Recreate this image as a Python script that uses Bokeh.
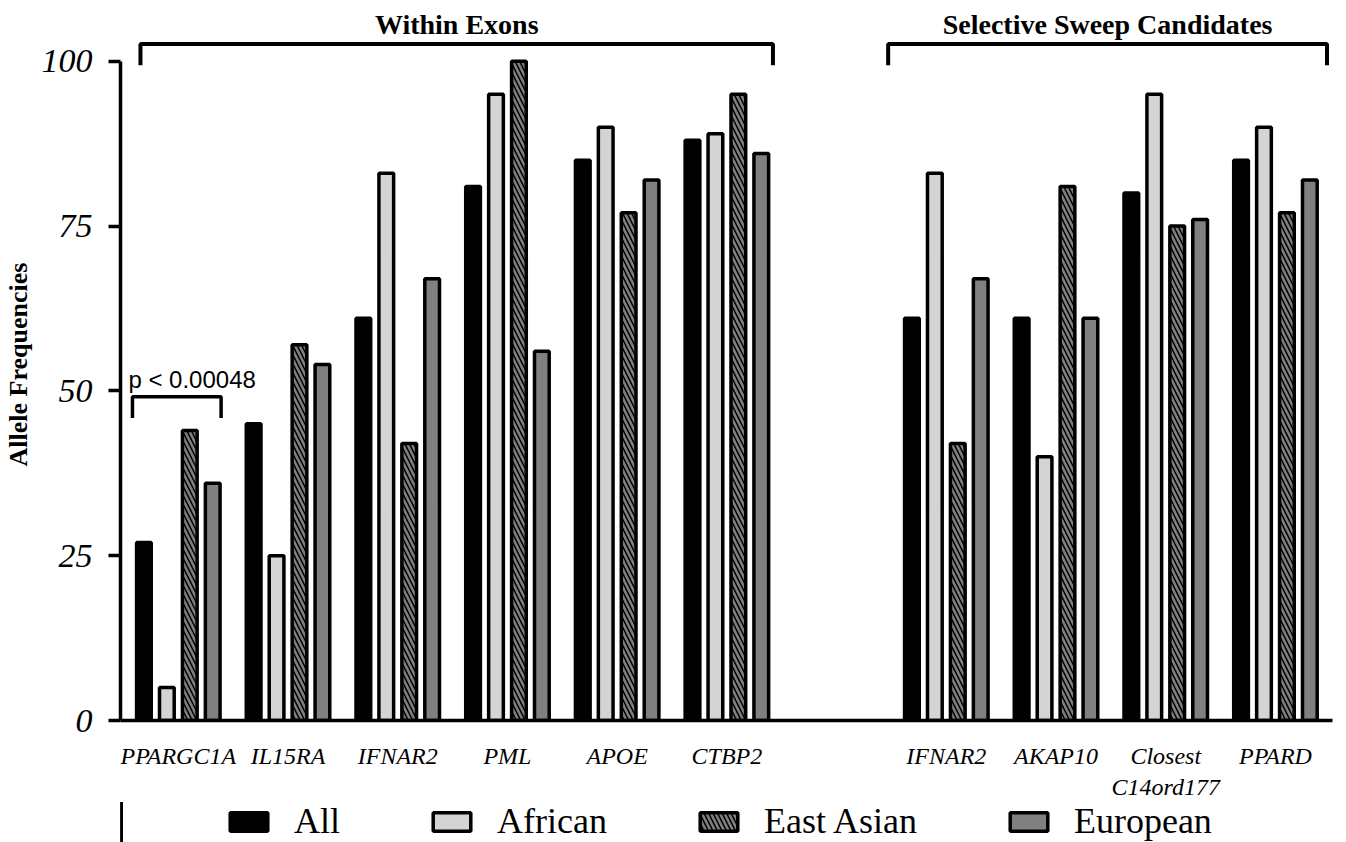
from bokeh.plotting import figure
from bokeh.layouts import column
from bokeh.models import Range1d, FixedTicker, Legend, LegendItem, ColumnDataSource
from bokeh.core.properties import value
from bokeh.embed import file_html
from bokeh.resources import INLINE

# ---------------- data ----------------
within_genes = ["PPARGC1A", "IL15RA", "IFNAR2", "PML", "APOE", "CTBP2"]
sweep_genes = ["IFNAR2", "AKAP10", "Closest\nC14ord177", "PPARD"]
series_names = ["All", "African", "East Asian", "European"]
all_vals = [27, 45, 61, 81, 85, 88, 61, 61, 80, 85]
african_vals = [5, 25, 83, 95, 90, 89, 83, 40, 95, 90]
east_asian_vals = [44, 57, 42, 100, 77, 95, 42, 81, 75, 77]
european_vals = [36, 54, 67, 56, 82, 86, 67, 61, 76, 82]
y_ticks = [0, 25, 50, 75, 100]
group_titles = ["Within Exons", "Selective Sweep Candidates"]
p_label = "p < 0.00048"
y_label = "Allele Frequencies"

# ---------------- layout helpers ----------------
positions = list(range(len(within_genes))) + [len(within_genes) + 1 + i for i in range(len(sweep_genes))]
labels = within_genes + sweep_genes

SERIF = "Liberation Serif"
SANS = "Liberation Sans"

p = figure(width=1336, height=802, output_backend="svg", toolbar_location=None,
           x_range=Range1d(-0.527, 10.52), y_range=Range1d(0, 108),
           min_border_top=8, min_border_right=4, min_border_bottom=81, min_border_left=117)
p.grid.visible = False
p.outline_line_color = None
p.background_fill_color = "white"
p.border_fill_color = "white"

pitch = 0.209
bar_w = 0.134
styles = [
    dict(fill_color="black", line_color="black"),
    dict(fill_color="#d4d4d4", line_color="black"),
    dict(fill_color="#808080", line_color="black", hatch_pattern="\\", hatch_color="black",
         hatch_scale=9, hatch_weight=1.5),
    dict(fill_color="#808080", line_color="black"),
]
all_series = [all_vals, african_vals, east_asian_vals, european_vals]
sources = []
for k, (name, vals, st) in enumerate(zip(series_names, all_series, styles)):
    off = (k - 1.5) * pitch
    src = ColumnDataSource(dict(x=[q + off for q in positions], top=vals))
    sources.append(src)
    p.vbar(x="x", top="top", width=bar_w, bottom=0, source=src, line_width=3.5, **st)

# ---------------- axes ----------------
yax = p.yaxis[0]
yax.bounds = (0, 100)
yax.ticker = FixedTicker(ticks=y_ticks)
yax.minor_tick_line_color = None
yax.axis_line_width = 3.5
yax.major_tick_line_width = 3.5
yax.major_tick_out = 12
yax.major_tick_in = 0
yax.major_label_standoff = 16
yax.major_label_text_font = SERIF
yax.major_label_text_font_style = "italic"
yax.major_label_text_font_size = "34px"
yax.major_label_text_color = "black"
yax.axis_label = y_label
yax.axis_label_text_font = SERIF
yax.axis_label_text_font_style = "bold"
yax.axis_label_text_font_size = "26px"
yax.axis_label_text_color = "black"
yax.axis_label_standoff = 6

xax = p.xaxis[0]
xax.ticker = FixedTicker(ticks=positions)
xax.major_label_overrides = {q: lab for q, lab in zip(positions, labels)}
xax.minor_tick_line_color = None
xax.major_tick_line_color = None
xax.axis_line_width = 3.5
xax.major_label_standoff = 16
xax.major_label_text_font = SERIF
xax.major_label_text_font_style = "italic"
xax.major_label_text_font_size = "24px"
xax.major_label_text_color = "black"

# ---------------- group brackets ----------------
br_y, br_drop = 102.6, 99.4
spans = [(positions[0] - 0.345, positions[len(within_genes) - 1] + 0.42),
         (positions[len(within_genes)] - 0.53, positions[-1] + 0.47)]
for (x0, x1), title in zip(spans, group_titles):
    p.line(x=[x0, x0, x1, x1], y=[br_drop, br_y, br_y, br_drop], line_color="black", line_width=4)
    p.text(x=[(x0 + x1) / 2], y=[105.6], text=[title], text_font=value(SERIF), text_font_style="bold",
           text_font_size="28px", text_align="center", text_baseline="middle", text_color="black")

# p-value bracket over PPARGC1A
px0, px1 = positions[0] - 0.418, positions[0] + 0.39
p.line(x=[px0, px0, px1, px1], y=[45.9, 49.1, 49.1, 45.9], line_color="black", line_width=3.5)
p.text(x=[positions[0] - 0.455], y=[51.7], text=[p_label], text_font=value(SANS),
       text_font_size="24px", text_align="left", text_baseline="alphabetic", text_color="black")

# ---------------- legend (own strip below the chart) ----------------
# same series sources, viewed through an x-window right of every bar; only the legend shows
lf = figure(width=1336, height=40, output_backend="svg", toolbar_location=None,
            x_range=Range1d(11, 12), y_range=Range1d(0, 1), min_border=0)
lf.axis.visible = False
lf.grid.visible = False
lf.outline_line_color = None
items = []
for name, st, src in zip(series_names, styles, sources):
    r = lf.vbar(x="x", top="top", width=bar_w, bottom=0, source=src, line_width=3.5, **st)
    items.append(LegendItem(label=name, renderers=[r], index=0))
legend = Legend(items=items, orientation="horizontal", location=(105, 0),
                glyph_width=47, glyph_height=23, label_standoff=22, spacing=88,
                label_text_font=SERIF, label_text_font_size="36px", label_text_color="black",
                border_line_color=None, background_fill_alpha=0, padding=0, margin=0)
lf.add_layout(legend, "center")

layout = column(p, lf, spacing=0)
open("out.html", "w").write(file_html(layout, INLINE))
